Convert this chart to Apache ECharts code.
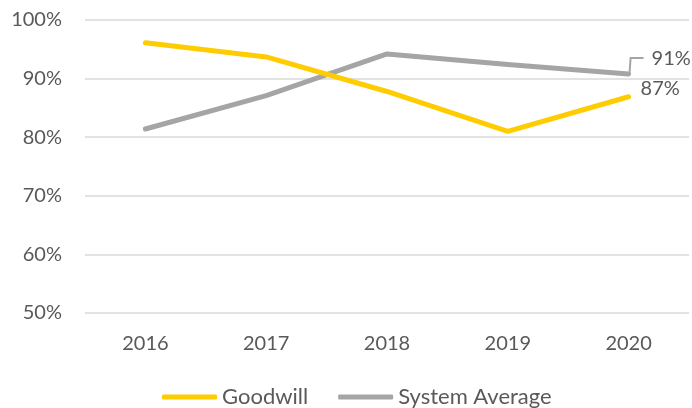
<!DOCTYPE html>
<html>
<head>
<meta charset="utf-8">
<script src="https://cdn.jsdelivr.net/npm/echarts@6/dist/echarts.min.js"></script>
<style>
  html, body { margin: 0; padding: 0; background: #fff; }
  #chart { width: 692px; height: 408px; }
</style>
</head>
<body>
<div id="chart"></div>
<script>
// Years on the category axis
const years = ['2016', '2017', '2018', '2019', '2020'];
// Rates in percent
const goodwill = [96.1, 93.7, 87.8, 81.0, 86.9];
const systemAverage = [81.4, 87.1, 94.2, 92.4, 90.8];
// Value axis range (percent)
const yMin = 50, yMax = 100, yStep = 10;

const FONT = "Lato, 'Open Sans', sans-serif";
const TEXT = '#595959';
const GRAY = '#A5A5A5';
const YELLOW = '#FFCC00';

// Only the final year carries a value label
function withEndLabel(values, labelOpts) {
  return values.map((v, i) => i === values.length - 1
    ? { value: v, label: Object.assign({ show: true }, labelOpts) }
    : v);
}

const chart = echarts.init(document.getElementById('chart'), null, { renderer: 'canvas' });
chart.setOption({
  animation: false,
  textStyle: { fontFamily: FONT },
  grid: { left: 85, right: 3, top: 20, bottom: 95 },
  legend: {
    top: 381,
    left: 157,
    itemWidth: 55,
    itemHeight: 5,
    itemGap: 30,
    icon: 'roundRect',
    textStyle: { color: TEXT, fontSize: 22, fontFamily: FONT },
    data: ['Goodwill', 'System Average']
  },
  xAxis: {
    type: 'category',
    data: years,
    boundaryGap: true,
    axisLine: { show: false },
    axisTick: { show: false },
    axisLabel: { color: TEXT, fontSize: 20, margin: 21, fontFamily: FONT }
  },
  yAxis: {
    type: 'value',
    min: yMin,
    max: yMax,
    interval: yStep,
    axisLine: { show: false },
    axisTick: { show: false },
    axisLabel: { color: TEXT, fontSize: 20, margin: 23, formatter: v => v + '%', fontFamily: FONT },
    splitLine: { lineStyle: { color: '#d9d9d9', width: 1.5 } }
  },
  series: [
    {
      name: 'Goodwill',
      type: 'line',
      data: withEndLabel(goodwill, {
        position: 'right',
        offset: [7, -8],
        formatter: p => Math.round(p.value) + '%',
        color: TEXT, fontSize: 20, fontFamily: FONT
      }),
      symbol: 'circle',
      symbolSize: 0,
      lineStyle: { color: YELLOW, width: 5, cap: 'round', join: 'round' },
      itemStyle: { color: YELLOW },
      z: 3
    },
    {
      name: 'System Average',
      type: 'line',
      data: withEndLabel(systemAverage, {
        position: 'right',
        offset: [18, -15],
        formatter: p => Math.round(p.value) + '%',
        color: TEXT, fontSize: 20, fontFamily: FONT
      }),
      symbol: 'circle',
      symbolSize: 0,
      lineStyle: { color: GRAY, width: 5, cap: 'round', join: 'round' },
      itemStyle: { color: GRAY },
      z: 2
    }
  ]
});

// Elbow leader from the last System Average point to its label
const last = systemAverage.length - 1;
const p = chart.convertToPixel({ seriesIndex: 1 }, [last, systemAverage[last]]);
chart.setOption({
  graphic: [{
    type: 'polyline',
    shape: { points: [[p[0] + 1, p[1] - 2], [p[0] + 2, p[1] - 16], [p[0] + 15, p[1] - 16]] },
    style: { stroke: GRAY, lineWidth: 2, fill: null },
    z: 10
  }]
});
</script>
</body>
</html>
